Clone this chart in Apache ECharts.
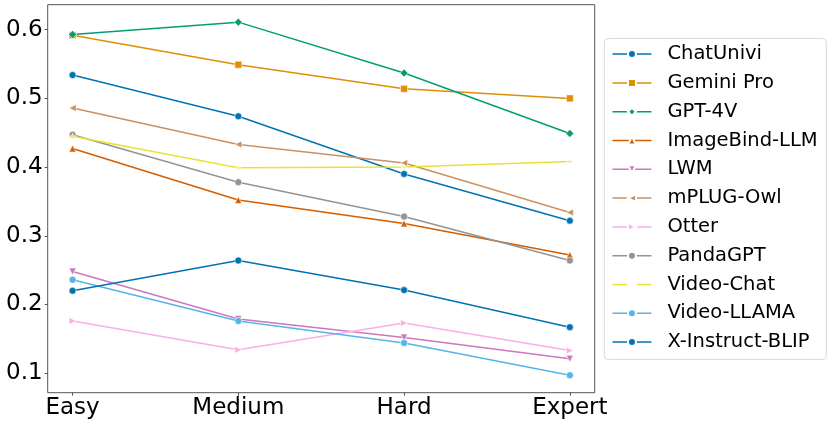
<!DOCTYPE html>
<html><head><meta charset="utf-8">
<script src="https://cdn.jsdelivr.net/npm/echarts@6/dist/echarts.min.js"></script>
<style>html,body{margin:0;padding:0;background:#fff}#c{width:831px;height:426px}</style>
</head><body><div id="c"></div>
<script>
const categories = ['Easy', 'Medium', 'Hard', 'Expert'];
const yTicks = [0.1, 0.2, 0.3, 0.4, 0.5, 0.6];
const seriesNames = ['ChatUnivi', 'Gemini Pro', 'GPT-4V', 'ImageBind-LLM', 'LWM', 'mPLUG-Owl', 'Otter', 'PandaGPT', 'Video-Chat', 'Video-LLAMA', 'X-Instruct-BLIP'];
const chatUnivi = [0.534, 0.474, 0.390, 0.322];
const geminiPro = [0.592, 0.549, 0.514, 0.500];
const gpt4v = [0.593, 0.611, 0.537, 0.449];
const imageBind = [0.427, 0.352, 0.318, 0.272];
const lwm = [0.248, 0.179, 0.152, 0.121];
const mplugOwl = [0.486, 0.433, 0.406, 0.334];
const otter = [0.176, 0.134, 0.173, 0.133];
const pandaGPT = [0.447, 0.378, 0.328, 0.264];
const videoChat = [0.445, 0.399, 0.400, 0.408];
const videoLlama = [0.236, 0.176, 0.144, 0.097];
const xInstruct = [0.220, 0.264, 0.221, 0.167];
const seriesValues = [chatUnivi, geminiPro, gpt4v, imageBind, lwm, mplugOwl, otter, pandaGPT, videoChat, videoLlama, xInstruct];

const colors = ['#0173b2', '#de8f05', '#029e73', '#d55e00', '#cc78bc', '#ca9161', '#fbafe4', '#949494', '#ece133', '#56b4e9', '#0173b2'];
const symbols = ['circle', 'rect', 'diamond', 'triangle',
  'path://M0,0 L10,0 L5,10 Z', 'path://M10,0 L10,10 L0,5 Z', 'path://M0,0 L0,10 L10,5 Z',
  'circle', 'path://M4,0 L6,0 L6,4 L10,4 L10,6 L6,6 L6,10 L4,10 L4,6 L0,6 L0,4 L4,4 Z', 'circle', 'circle'];
const sizes = [7, 7, 8, 7, 7, 7, 7, 7, 5, 7, 7];
const FONT = 'DejaVu Sans';

const chart = echarts.init(document.getElementById('c'));
chart.setOption({
  animation: false,
  backgroundColor: '#fff',
  grid: { left: 47.7, top: 4.7, width: 547, height: 388, show: true, borderColor: '#555', borderWidth: 1, backgroundColor: 'transparent' },
  xAxis: {
    type: 'value', min: -0.15, max: 3.15,
    splitLine: { show: false },
    axisLine: { show: false, onZero: false },
    axisTick: { show: true, length: 3, customValues: [0, 1, 2, 3], lineStyle: { color: '#555' } },
    axisLabel: { customValues: [0, 1, 2, 3], formatter: v => categories[Math.round(v)], fontSize: 23, fontFamily: FONT, color: '#000', margin: 4 }
  },
  yAxis: {
    type: 'value', min: 0.0716, max: 0.6364,
    splitLine: { show: false },
    axisLine: { show: false, onZero: false },
    axisTick: { show: true, length: 3, customValues: yTicks, lineStyle: { color: '#555' } },
    axisLabel: { customValues: yTicks, formatter: v => v.toFixed(1), fontSize: 23, fontFamily: FONT, color: '#000', margin: 5 }
  },
  legend: {
    orient: 'vertical', left: 604.3, top: 38.5,
    padding: [5.6, 8.7, 7.5, 7.4],
    itemWidth: 39, itemHeight: 10, itemGap: 8.8,
    borderColor: '#d9d9d9', borderWidth: 1, borderRadius: 4,
    lineStyle: { width: 1.5 },
    textStyle: { fontSize: 19.5, fontFamily: FONT, color: '#000', lineHeight: 20, padding: [0, 0, 0, 11] },
    data: seriesNames
  },
  series: seriesNames.map((name, k) => ({
    name, type: 'line',
    data: seriesValues[k].map((v, i) => [i, v]),
    symbol: symbols[k], symbolSize: sizes[k],
    showAllSymbol: true,
    lineStyle: { color: colors[k], width: 1.5 },
    itemStyle: { color: colors[k], borderColor: '#fff', borderWidth: 0.6 },
    emphasis: { disabled: true }
  }))
});
</script></body></html>
